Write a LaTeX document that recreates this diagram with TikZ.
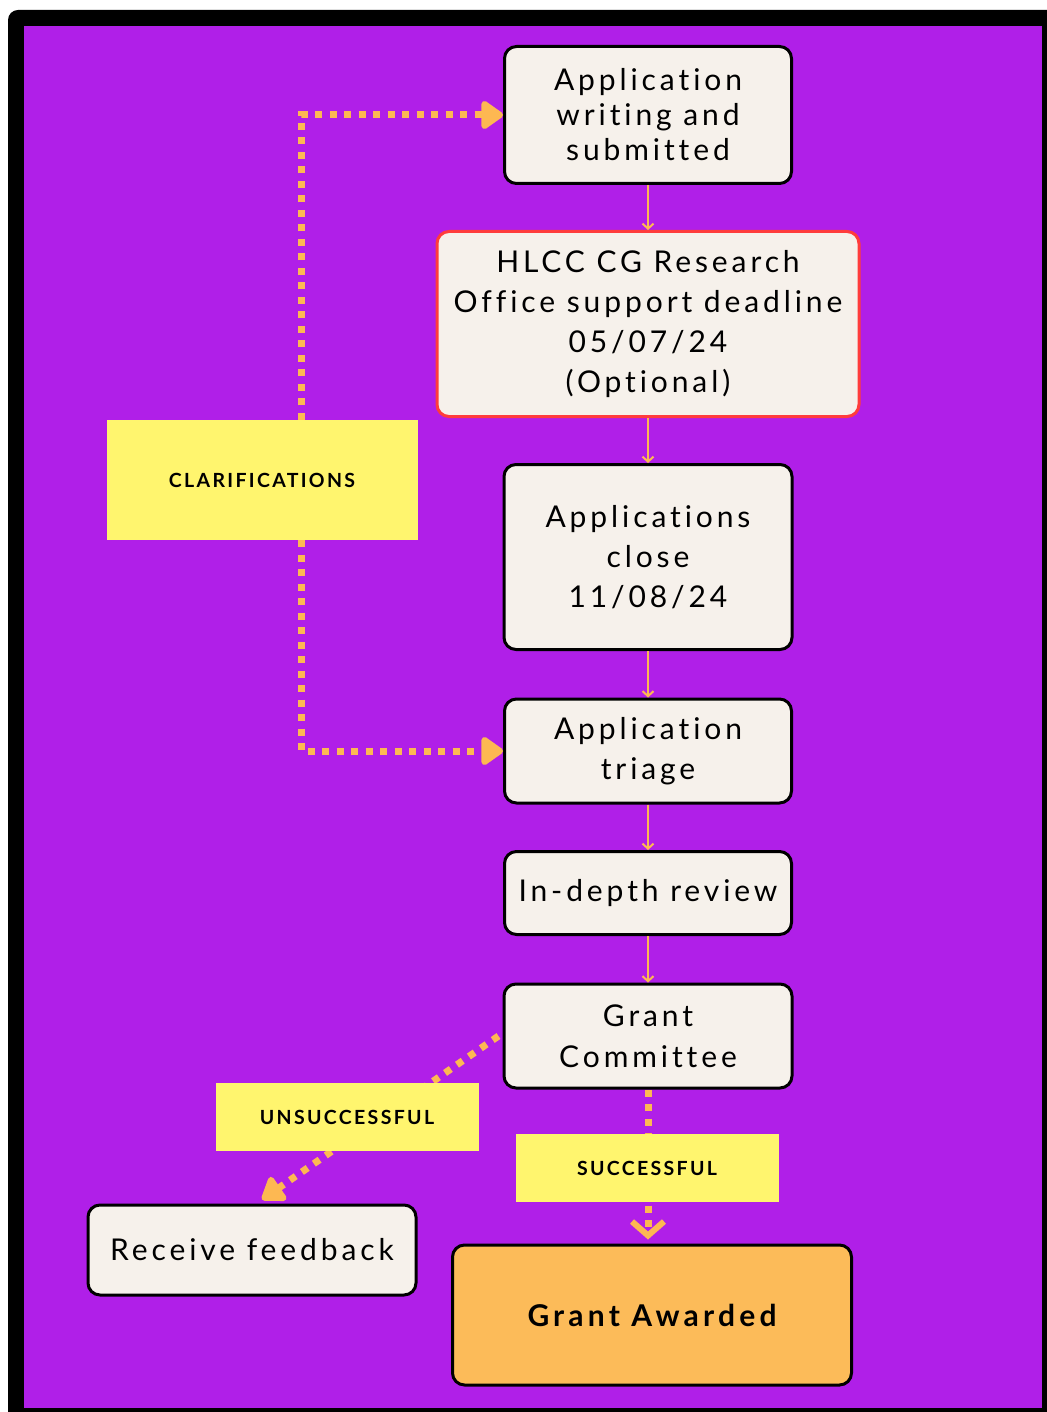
\documentclass[tikz,border=0pt]{standalone}
\usepackage{fontspec}
\setmainfont{Lato}[LetterSpace=13,Ligatures=NoCommon]
\newfontfamily\lblfont{Lato}[LetterSpace=12,Ligatures=NoCommon]
\newfontfamily\awardfont{Lato}[LetterSpace=14,Ligatures=NoCommon]
\usetikzlibrary{arrows.meta,calc}
\pgfdeclarelayer{back}
\pgfdeclarelayer{bg}
\pgfsetlayers{back,bg,main}
\definecolor{bgpurple}{RGB}{176,31,232}
\definecolor{cream}{RGB}{246,241,235}
\definecolor{lineorange}{RGB}{253,184,82}
\definecolor{awardorange}{RGB}{252,187,89}
\definecolor{lblyellow}{RGB}{255,245,110}
\definecolor{boxred}{RGB}{255,60,60}
\tikzset{
  stagebox/.style={draw=black, line width=3pt, rounded corners=12pt, fill=cream,
    align=center, inner sep=0pt, text=black},
  tagbox/.style={fill=lblyellow, inner sep=0pt, align=center,
    font=\lblfont\fontsize{19.5}{22}\selectfont\bfseries},
  flowline/.style={draw=lineorange, line width=2pt, -{Straight Barb[length=5pt,width=11pt]}},
  dotline/.style={draw=lineorange, line width=7pt, dash pattern=on 7pt off 7.5pt},
  filltip/.style={-{Triangle[length=24pt,width=32pt,round]}},
  barbtip/.style={-{Straight Barb[length=14pt,width=32pt,line width=6pt]}}
}
\begin{document}
\begin{tikzpicture}[x=1pt,y=-1pt]
\useasboundingbox (0,0) rectangle (1046,1412);
\begin{pgfonlayer}{back}
\fill[white] (0,0) rectangle (1046,1412);
\fill[black, rounded corners=10pt] (8,10) rectangle (1070,1440);
\fill[bgpurple] (24,26) rectangle (1042,1408);
\end{pgfonlayer}

\node[stagebox, minimum width=287pt, minimum height=137pt,
  font=\fontsize{30}{35}\selectfont] (A) at (648,115)
  {Application\\writing and\\submitted};
\node[stagebox, draw=boxred, minimum width=422pt, minimum height=185pt,
  font=\fontsize{30}{40}\selectfont] (B) at (648,324)
  {HLCC CG Research\\Office support deadline\\05/07/24\\(Optional)};
\node[stagebox, minimum width=288pt, minimum height=185pt,
  font=\fontsize{30}{40}\selectfont] (C) at (648,557)
  {Applications\\close\\11/08/24};
\node[stagebox, minimum width=287pt, minimum height=104pt,
  font=\fontsize{30}{40}\selectfont] (D) at (648,751)
  {Application\\triage};
\node[stagebox, minimum width=287pt, minimum height=83pt,
  font=\fontsize{30}{40}\selectfont] (E) at (648,893)
  {In-depth review};
\node[stagebox, minimum width=288pt, minimum height=104pt,
  font=\fontsize{30}{41}\selectfont] (F) at (648,1036)
  {Grant\\Committee};
\node[stagebox, fill=awardorange, minimum width=399pt, minimum height=140pt,
  font=\awardfont\fontsize{30}{34}\selectfont\bfseries] (G) at (652,1315)
  {Grant Awarded};
\node[stagebox, minimum width=328pt, minimum height=90pt,
  font=\fontsize{30}{40}\selectfont] (H) at (252,1250)
  {Receive feedback};

\node[tagbox, minimum width=311pt, minimum height=120pt] (clar) at (262,480) {CLARIFICATIONS};
\node[tagbox, minimum width=263pt, minimum height=68pt] (uns) at (347,1117) {UNSUCCESSFUL};
\node[tagbox, minimum width=263pt, minimum height=68pt] (suc) at (647,1168) {SUCCESSFUL};

\draw[flowline] (A.south) -- (B.north);
\draw[flowline] (B.south) -- (C.north);
\draw[flowline] (C.south) -- (D.north);
\draw[flowline] (D.south) -- (E.north);
\draw[flowline] (E.south) -- (F.north);

\begin{pgfonlayer}{bg}
\draw[dotline, filltip] ($(clar.north)+(39,0)$) |- (A.west);
\draw[dotline, filltip] ($(clar.south)+(39,0)$) |- (D.west);
\draw[dotline, filltip] ($(F.west)+(-4,0)$) -- ($(H.north)+(10,-4)$);
\draw[dotline, barbtip] (F.south) -- ($(F.south |- G.north)+(0,-4)$);
\end{pgfonlayer}
\end{tikzpicture}
\end{document}
